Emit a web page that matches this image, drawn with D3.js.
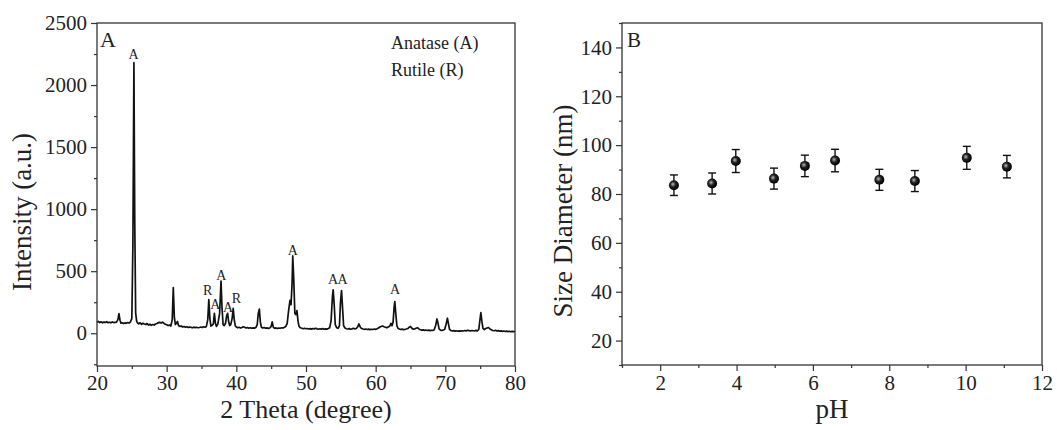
<!DOCTYPE html>
<html>
<head>
<meta charset="utf-8">
<script src="https://cdn.jsdelivr.net/npm/d3@7"></script>
<style>
  body { margin: 0; background: #fff; }
  svg, svg text { font-family: "Liberation Serif", "Times New Roman", serif; }
  .tick text { fill: #222; }
  .tick line { stroke: #333; stroke-width: 1.2; }
</style>
</head>
<body>
<script>
// XRD pattern, [2 theta, intensity]
var xrdPattern = [
  [20.0, 88], [20.2, 95], [20.4, 86], [20.6, 92], [20.8, 84], [21.0, 90], [21.2, 87], [21.4, 93], [21.6, 85], [21.8, 89],
  [22.0, 84], [22.2, 91], [22.4, 86], [22.6, 88], [22.8, 90], [23.0, 110], [23.15, 158], [23.3, 105], [23.45, 80], [23.6, 84],
  [23.8, 78], [24.0, 83], [24.2, 80], [24.4, 86], [24.6, 82], [24.8, 90], [25.0, 120], [25.15, 700], [25.3, 2180], [25.42, 900],
  [25.55, 160], [25.7, 95], [25.85, 82], [26.0, 76], [26.2, 84], [26.4, 72], [26.6, 80], [26.8, 74], [27.0, 70], [27.2, 78],
  [27.4, 66], [27.6, 72], [27.8, 64], [28.0, 70], [28.2, 66], [28.4, 74], [28.6, 78], [28.8, 85], [29.0, 88], [29.2, 82],
  [29.4, 90], [29.6, 80], [29.8, 72], [30.0, 68], [30.2, 62], [30.4, 66], [30.6, 58], [30.8, 110], [30.95, 368], [31.1, 130],
  [31.25, 70], [31.4, 80], [31.55, 95], [31.7, 62], [31.9, 55], [32.1, 58], [32.3, 50], [32.5, 54], [32.7, 48], [32.9, 52],
  [33.1, 46], [33.3, 50], [33.5, 47], [33.7, 44], [33.9, 49], [34.1, 45], [34.3, 48], [34.5, 44], [34.7, 46], [34.9, 50],
  [35.1, 46], [35.3, 52], [35.5, 48], [35.7, 55], [35.9, 110], [36.05, 272], [36.2, 120], [36.35, 58], [36.5, 62], [36.7, 75],
  [36.85, 160], [37.0, 80], [37.15, 55], [37.35, 75], [37.6, 160], [37.8, 420], [37.95, 200], [38.1, 70], [38.25, 62], [38.45, 80],
  [38.6, 140], [38.75, 160], [38.9, 90], [39.05, 62], [39.2, 70], [39.4, 120], [39.55, 200], [39.7, 110], [39.85, 60], [40.0, 50],
  [40.2, 44], [40.4, 48], [40.6, 42], [40.8, 46], [41.0, 52], [41.2, 48], [41.4, 42], [41.6, 46], [41.8, 40], [42.0, 44],
  [42.2, 40], [42.4, 43], [42.6, 41], [42.8, 46], [43.0, 70], [43.15, 160], [43.3, 194], [43.45, 90], [43.6, 48], [43.8, 42],
  [44.0, 46], [44.2, 40], [44.4, 43], [44.6, 39], [44.8, 42], [45.0, 55], [45.15, 92], [45.3, 50], [45.5, 40], [45.7, 43],
  [45.9, 38], [46.1, 42], [46.3, 40], [46.5, 44], [46.7, 42], [46.9, 48], [47.1, 55], [47.3, 80], [47.5, 180], [47.7, 265],
  [47.85, 230], [48.0, 400], [48.1, 623], [48.25, 420], [48.4, 160], [48.55, 150], [48.7, 182], [48.85, 100], [49.0, 55], [49.2, 44],
  [49.4, 40], [49.6, 36], [49.8, 40], [50.0, 36], [50.2, 38], [50.4, 34], [50.6, 37], [50.8, 33], [51.0, 38], [51.2, 35],
  [51.4, 40], [51.6, 35], [51.8, 32], [52.0, 36], [52.2, 33], [52.4, 37], [52.6, 32], [52.8, 35], [53.0, 33], [53.2, 38],
  [53.4, 45], [53.6, 100], [53.8, 300], [53.9, 349], [54.05, 230], [54.2, 70], [54.4, 45], [54.6, 40], [54.8, 60], [54.95, 250],
  [55.1, 344], [55.25, 200], [55.4, 60], [55.6, 42], [55.8, 36], [56.0, 34], [56.2, 37], [56.4, 32], [56.6, 35], [56.8, 40],
  [57.0, 35], [57.2, 38], [57.4, 50], [57.6, 75], [57.8, 48], [58.0, 38], [58.2, 34], [58.4, 31], [58.6, 34], [58.8, 30],
  [59.0, 33], [59.2, 29], [59.4, 32], [59.6, 30], [59.8, 34], [60.0, 31], [60.2, 36], [60.4, 42], [60.6, 50], [60.8, 55],
  [61.0, 58], [61.2, 52], [61.4, 48], [61.6, 44], [61.8, 50], [62.0, 56], [62.2, 80], [62.35, 60], [62.5, 90], [62.65, 210],
  [62.75, 255], [62.9, 150], [63.05, 60], [63.2, 40], [63.4, 34], [63.6, 30], [63.8, 33], [64.0, 29], [64.2, 31], [64.4, 34],
  [64.6, 38], [64.8, 48], [65.0, 55], [65.2, 40], [65.4, 32], [65.6, 35], [65.8, 40], [66.0, 45], [66.2, 35], [66.4, 28],
  [66.6, 25], [66.8, 27], [67.0, 23], [67.2, 26], [67.4, 22], [67.6, 25], [67.8, 21], [68.0, 24], [68.2, 22], [68.4, 28],
  [68.6, 60], [68.8, 115], [68.95, 80], [69.1, 35], [69.3, 25], [69.5, 22], [69.7, 26], [69.9, 30], [70.1, 70], [70.3, 121],
  [70.45, 75], [70.6, 32], [70.8, 22], [71.0, 18], [71.2, 21], [71.4, 17], [71.6, 20], [71.8, 16], [72.0, 19], [72.2, 17],
  [72.4, 20], [72.6, 18], [72.8, 22], [73.0, 19], [73.2, 24], [73.4, 21], [73.6, 18], [73.8, 22], [74.0, 20], [74.2, 18],
  [74.4, 23], [74.6, 19], [74.8, 30], [74.95, 100], [75.1, 166], [75.25, 95], [75.4, 40], [75.6, 30], [75.8, 38], [76.0, 42],
  [76.2, 46], [76.4, 34], [76.6, 28], [76.8, 22], [77.0, 20], [77.2, 24], [77.4, 18], [77.6, 21], [77.8, 16], [78.0, 19],
  [78.2, 15], [78.4, 18], [78.6, 14], [78.8, 17], [79.0, 13], [79.2, 16], [79.4, 12], [79.6, 15], [79.8, 13], [80.0, 14]
];

// phase labels over the peaks
var peakText = ['A', 'R', 'A', 'A', 'A', 'R', 'A', 'A', 'A', 'A'];
var peakAngle = [25.25, 35.9, 37.0, 37.85, 38.8, 40.0, 48.1, 53.9, 55.25, 62.8];
var peakLabelY = [2250, 345, 235, 470, 210, 285, 671, 438, 438, 357];

var legendLines = ['Anatase (A)', 'Rutile (R)'];

var xrdXTicks = [20, 30, 40, 50, 60, 70, 80];
var xrdYTicks = [0, 500, 1000, 1500, 2000, 2500];

// particle size vs pH
var phValues = [2.36, 3.36, 3.98, 4.98, 5.79, 6.58, 7.74, 8.67, 10.03, 11.08];
var sizeValues = [83.6, 84.3, 93.5, 86.3, 91.5, 93.7, 85.8, 85.3, 94.8, 91.2];
var sizeErrors = [4.2, 4.3, 4.7, 4.3, 4.4, 4.6, 4.3, 4.3, 4.7, 4.6];

var phTicks = [2, 4, 6, 8, 10, 12];
var sizeTicks = [20, 40, 60, 80, 100, 120, 140];

var FONT = '"Liberation Serif", "Times New Roman", serif';

var svg = d3.select("body").append("svg")
    .attr("width", 1057)
    .attr("height", 430);

svg.append("rect").attr("width", 1057).attr("height", 430).attr("fill", "#fff");

var defs = svg.append("defs");
var grad = defs.append("radialGradient").attr("id", "ball")
    .attr("cx", "40%").attr("cy", "40%").attr("r", "60%");
grad.append("stop").attr("offset", "0%").attr("stop-color", "#bbb");
grad.append("stop").attr("offset", "45%").attr("stop-color", "#222");
grad.append("stop").attr("offset", "100%").attr("stop-color", "#000");

// put an axis on the page, major or minor
function drawAxis(axis, tx, ty, labels) {
    var g = svg.append("g")
        .attr("transform", "translate(" + tx + "," + ty + ")")
        .call(axis)
        .attr("font-family", FONT)
        .attr("font-size", 21);
    g.select(".domain").remove();
    if (!labels) g.selectAll("text").remove();
    return g;
}

//////////////////////// panel A
var xA = d3.scaleLinear().domain([20, 80]).range([97, 515]);
var yA = d3.scaleLinear().domain([-264, 2500]).range([366, 23]);

drawAxis(d3.axisBottom(xA).tickValues([25, 35, 45, 55, 65, 75]).tickSize(3), 0, 366, false);
drawAxis(d3.axisLeft(yA).tickValues([-250, 250, 750, 1250, 1750, 2250]).tickSize(3), 97, 0, false);
drawAxis(d3.axisBottom(xA).tickValues(xrdXTicks).tickSize(6).tickPadding(3).tickFormat(d3.format("d")), 0, 366, true);
drawAxis(d3.axisLeft(yA).tickValues(xrdYTicks).tickSize(6).tickPadding(4).tickFormat(d3.format("d")), 97, 0, true);

// the pattern
var xrdLine = d3.line()
    .x(function (d) { return xA(d[0]); })
    .y(function (d) { return yA(d[1]); });

svg.append("path")
    .datum(xrdPattern)
    .attr("d", xrdLine)
    .attr("fill", "none")
    .attr("stroke", "#111")
    .attr("stroke-width", 1.7)
    .attr("stroke-linejoin", "round");

svg.append("rect")
    .attr("x", 97).attr("y", 23).attr("width", 515 - 97).attr("height", 366 - 23)
    .attr("fill", "none").attr("stroke", "#333").attr("stroke-width", 1.3);

peakText.forEach(function (t, i) {
    svg.append("text")
        .attr("x", xA(peakAngle[i]))
        .attr("y", yA(peakLabelY[i]) + 5)
        .attr("text-anchor", "middle")
        .attr("font-size", 14)
        .attr("fill", "#222")
        .text(t);
});

legendLines.forEach(function (t, i) {
    svg.append("text")
        .attr("x", 391).attr("y", 49 + i * 27)
        .attr("font-size", 18).attr("fill", "#222")
        .text(t);
});

svg.append("text").attr("x", 100).attr("y", 47).attr("font-size", 22).attr("fill", "#222").text("A");

svg.append("text")
    .attr("x", (97 + 515) / 2).attr("y", 418)
    .attr("text-anchor", "middle").attr("font-size", 26).attr("fill", "#222")
    .text("2 Theta (degree)");

svg.append("text")
    .attr("transform", "translate(31,212) rotate(-90)")
    .attr("text-anchor", "middle").attr("font-size", 27).attr("fill", "#222")
    .text("Intensity (a.u.)");

//////////////////////// panel B
var xB = d3.scaleLinear().domain([1, 12]).range([622, 1042]);
var yB = d3.scaleLinear().domain([10, 150]).range([365, 23]);

drawAxis(d3.axisBottom(xB).tickValues([1, 3, 5, 7, 9, 11]).tickSize(3), 0, 365, false);
drawAxis(d3.axisLeft(yB).tickValues([10, 30, 50, 70, 90, 110, 130, 150]).tickSize(3), 622, 0, false);
drawAxis(d3.axisBottom(xB).tickValues(phTicks).tickSize(6).tickPadding(4).tickFormat(d3.format("d")), 0, 365, true);
drawAxis(d3.axisLeft(yB).tickValues(sizeTicks).tickSize(6).tickPadding(4).tickFormat(d3.format("d")), 622, 0, true);

svg.append("rect")
    .attr("x", 622).attr("y", 23).attr("width", 1042 - 622).attr("height", 365 - 23)
    .attr("fill", "none").attr("stroke", "#333").attr("stroke-width", 1.3);

var pts = phValues.map(function (p, i) { return { ph: p, size: sizeValues[i], err: sizeErrors[i] }; });

var eb = svg.append("g").attr("stroke", "#111").attr("stroke-width", 1.4);
pts.forEach(function (d) {
    var cx = xB(d.ph);
    eb.append("line").attr("x1", cx).attr("x2", cx).attr("y1", yB(d.size - d.err)).attr("y2", yB(d.size + d.err));
    eb.append("line").attr("x1", cx - 4).attr("x2", cx + 4).attr("y1", yB(d.size - d.err)).attr("y2", yB(d.size - d.err));
    eb.append("line").attr("x1", cx - 4).attr("x2", cx + 4).attr("y1", yB(d.size + d.err)).attr("y2", yB(d.size + d.err));
});

svg.selectAll("circle.pt").data(pts).enter().append("circle")
    .attr("class", "pt")
    .attr("cx", function (d) { return xB(d.ph); })
    .attr("cy", function (d) { return yB(d.size); })
    .attr("r", 5)
    .attr("fill", "url(#ball)");

svg.append("text").attr("x", 627).attr("y", 47).attr("font-size", 21).attr("fill", "#222").text("B");

svg.append("text")
    .attr("x", 832).attr("y", 418)
    .attr("text-anchor", "middle").attr("font-size", 27).attr("fill", "#222")
    .text("pH");

svg.append("text")
    .attr("transform", "translate(572,211) rotate(-90)")
    .attr("text-anchor", "middle").attr("font-size", 27).attr("fill", "#222")
    .text("Size Diameter (nm)");
</script>
</body>
</html>
